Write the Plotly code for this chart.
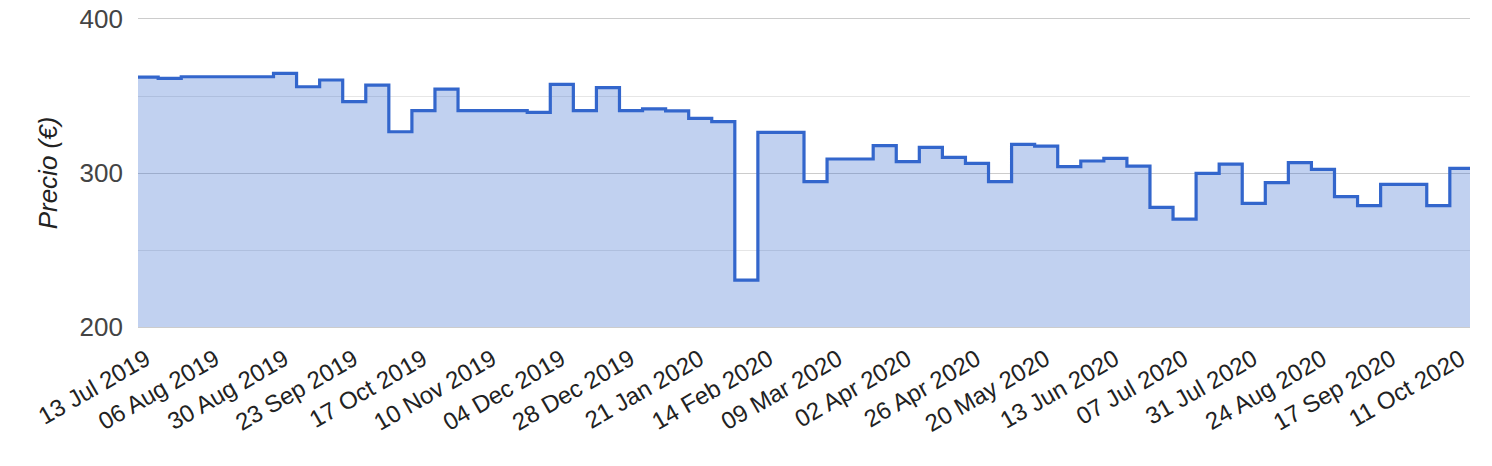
import plotly.graph_objects as go

# Price change dates (step chart, value holds until next date)
dates = [
    "2019-07-13", "2019-07-20", "2019-07-28", "2019-08-29", "2019-09-06",
    "2019-09-14", "2019-09-22", "2019-09-30", "2019-10-08", "2019-10-16",
    "2019-10-24", "2019-11-01", "2019-11-25", "2019-12-03", "2019-12-11",
    "2019-12-19", "2019-12-27", "2020-01-04", "2020-01-12", "2020-01-20",
    "2020-01-28", "2020-02-05", "2020-02-13", "2020-02-29", "2020-03-08",
    "2020-03-24", "2020-04-01", "2020-04-09", "2020-04-17", "2020-04-25",
    "2020-05-03", "2020-05-11", "2020-05-19", "2020-05-27", "2020-06-04",
    "2020-06-12", "2020-06-20", "2020-06-28", "2020-07-06", "2020-07-14",
    "2020-07-22", "2020-07-30", "2020-08-07", "2020-08-15", "2020-08-23",
    "2020-08-31", "2020-09-08", "2020-09-16", "2020-10-02", "2020-10-10",
    "2020-10-17",
]
prices = [
    362.3, 361.5, 362.5, 364.7, 356.0,
    360.4, 346.3, 357.0, 326.8, 340.5,
    354.5, 340.5, 339.4, 357.6, 340.5,
    355.4, 340.5, 341.6, 340.3, 335.5,
    333.3, 230.5, 326.4, 294.4, 309.1,
    317.8, 307.4, 316.7, 310.2, 306.3,
    294.4, 318.6, 317.5, 304.1, 307.8,
    309.5, 304.5, 277.7, 270.1, 299.8,
    305.8, 280.3, 293.7, 306.7, 302.4,
    284.7, 278.8, 292.6, 278.8, 303.0,
    303.0,
]

tick_dates = [
    "2019-07-13", "2019-08-06", "2019-08-30", "2019-09-23", "2019-10-17",
    "2019-11-10", "2019-12-04", "2019-12-28", "2020-01-21", "2020-02-14",
    "2020-03-09", "2020-04-02", "2020-04-26", "2020-05-20", "2020-06-13",
    "2020-07-07", "2020-07-31", "2020-08-24", "2020-09-17", "2020-10-11",
]
tick_labels = [
    "13 Jul 2019", "06 Aug 2019", "30 Aug 2019", "23 Sep 2019", "17 Oct 2019",
    "10 Nov 2019", "04 Dec 2019", "28 Dec 2019", "21 Jan 2020", "14 Feb 2020",
    "09 Mar 2020", "02 Apr 2020", "26 Apr 2020", "20 May 2020", "13 Jun 2020",
    "07 Jul 2020", "31 Jul 2020", "24 Aug 2020", "17 Sep 2020", "11 Oct 2020",
]
y_ticks = [200, 300, 400]

fig = go.Figure()
fig.add_trace(go.Scatter(
    x=dates, y=prices,
    mode="lines",
    line=dict(shape="hv", color="#3366cc", width=3.2),
    fill="tozeroy",
    fillcolor="rgba(51,102,204,0.3)",
    showlegend=False,
))

fig.update_layout(
    width=1492, height=466,
    margin=dict(l=138, r=22, t=19, b=139, autoexpand=False),
    paper_bgcolor="white",
    plot_bgcolor="white",
    font=dict(family="Liberation Sans, Arial, sans-serif"),
)
fig.update_xaxes(
    automargin=False,
    range=["2019-07-13", "2020-10-17"],
    tickvals=tick_dates, ticktext=tick_labels,
    tickangle=-30,
    tickfont=dict(size=24, color="#222222"),
    ticklabelstandoff=8,
    ticklabelshift=8,
    showgrid=False, zeroline=False,
    showline=True, mirror=True, linecolor="#cccccc", linewidth=1,
    ticks="",
)
fig.update_yaxes(
    automargin=False,
    range=[200, 400],
    tickvals=y_ticks,
    tickfont=dict(size=26, color="#444444"),
    showgrid=True, gridcolor="#cccccc", gridwidth=1,
    minor=dict(dtick=50, showgrid=True, gridcolor="#e6e6e6", gridwidth=1),
    zeroline=False, showline=False, ticks="",
    ticklabelstandoff=14,
    title=dict(text="<i>Precio (€)</i>", font=dict(size=26, color="#222222"), standoff=14),
)

fig.write_html("out.html")
